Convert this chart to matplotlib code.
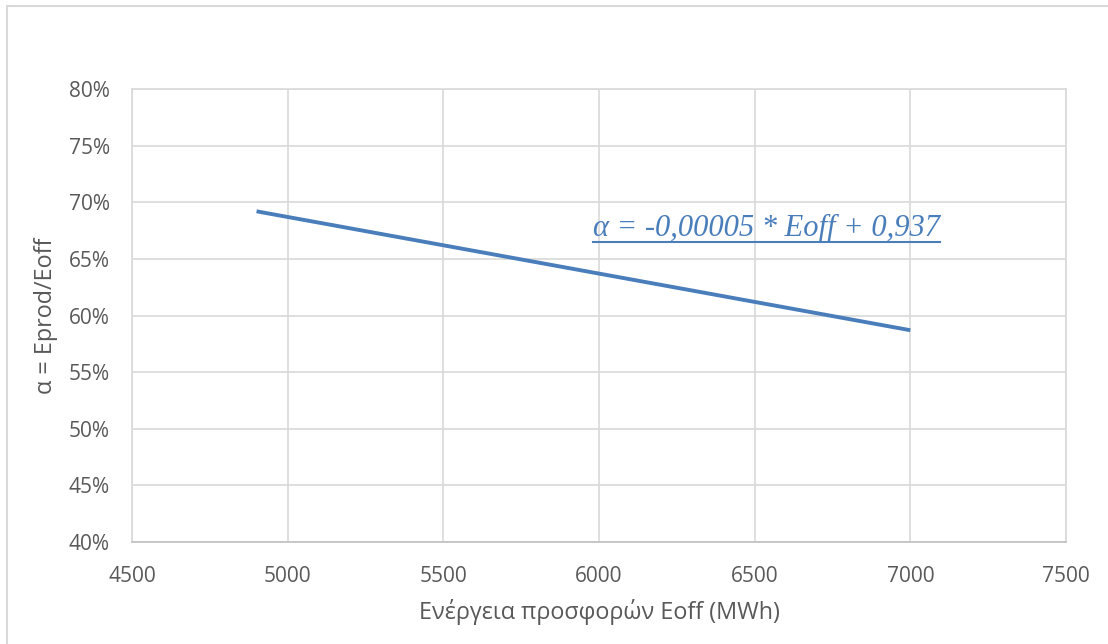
import numpy as np
import matplotlib.pyplot as plt
from matplotlib.patches import Rectangle
from matplotlib.lines import Line2D
from matplotlib.ticker import FuncFormatter

# data
eoff = [4900, 7000]
alpha = [0.692, 0.587]
xticks = [4500, 5000, 5500, 6000, 6500, 7000, 7500]
yticks = [0.40, 0.45, 0.50, 0.55, 0.60, 0.65, 0.70, 0.75, 0.80]
eq_text = "α = -0,00005 * Eoff + 0,937"

plt.rcParams['font.family'] = ['Open Sans', 'DejaVu Sans']

W, H = 1108, 644
fig = plt.figure(figsize=(W / 100, H / 100), dpi=100)
ax = fig.add_axes([132 / W, 1 - 542 / H, (1066 - 132) / W, (542 - 89) / H])

ax.plot(eoff, alpha, color='#4a7ebb', lw=2.8, solid_capstyle='butt')

ax.set_xlim(4500, 7500)
ax.set_ylim(0.40, 0.80)
ax.set_xticks(xticks)
ax.set_yticks(yticks)
ax.yaxis.set_major_formatter(FuncFormatter(lambda v, p: f"{v*100:.0f}%"))
ax.grid(True, color='#d9d9d9', lw=1.2)
ax.set_axisbelow(True)
for s in ['top', 'right', 'left']:
    ax.spines[s].set_color('#d9d9d9')
    ax.spines[s].set_linewidth(1.2)
ax.spines['bottom'].set_color('#bfbfbf')
ax.spines['bottom'].set_linewidth(1.2)
ax.tick_params(length=0, labelsize=15, labelcolor='#595959')
ax.tick_params(axis='x', pad=17)
ax.tick_params(axis='y', pad=16)

ax.set_xlabel("Ενέργεια προσφορών Eoff (MWh)", fontsize=16.8, color='#595959', labelpad=9)
ax.set_ylabel("α = Eprod/Eoff", fontsize=16.8, color='#595959', labelpad=8)

# equation label, underlined
t = fig.text(766 / W, 1 - 228 / H, eq_text, ha='center', va='center',
             fontsize=22, color='#4a7ebb', style='italic',
             family=['Liberation Serif', 'DejaVu Serif'])
fig.canvas.draw()
bb = t.get_window_extent()
fig.add_artist(Line2D([bb.x0 / W, bb.x1 / W], [(bb.y0 + 1) / H, (bb.y0 + 1) / H],
                      color='#4a7ebb', lw=1.5, transform=fig.transFigure))

# chart border
fig.add_artist(Rectangle((7 / W, -0.1), 1.2, 1 - 6 / H + 0.1, transform=fig.transFigure,
                         fill=False, edgecolor='#d9d9d9', lw=1.5))

fig.savefig('out.png', dpi=100)
